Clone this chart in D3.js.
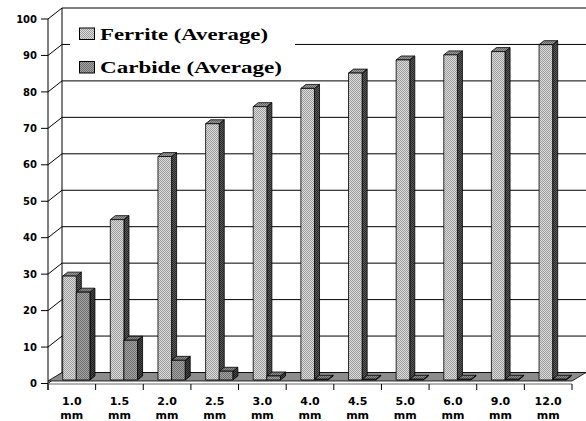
<!DOCTYPE html>
<html>
<head>
<meta charset="utf-8">
<script src="https://cdn.jsdelivr.net/npm/d3@7/dist/d3.min.js"></script>
<style>
  html, body { margin: 0; padding: 0; background: #fff; }
  svg { display: block; }
</style>
</head>
<body>
<svg id="chart" width="586" height="421"></svg>
<script>
// Average phase fractions by distance
const categories = ["1.0", "1.5", "2.0", "2.5", "3.0", "4.0", "4.5", "5.0", "6.0", "9.0", "12.0"];
const ferrite = [28.5, 44, 61.3, 70.3, 75, 80, 84.2, 87.8, 89.2, 90.1, 92];
const carbide = [24.1, 10.9, 5.4, 2.4, 1.1, 0.2, 0.2, 0.2, 0.2, 0.2, 0.2];
const yTicks = [0, 10, 20, 30, 40, 50, 60, 70, 80, 90, 100];
const seriesNames = ["Ferrite (Average)", "Carbide (Average)"];

const svg = d3.select("#chart");

const x = d3.scaleBand().domain(categories).range([48, 572]).paddingInner(0).paddingOuter(0);
const y = d3.scaleLinear().domain([0, 100]).range([383.5, 19]);

// oblique depth offset of the back plane
const DX = 14, DY = -11;
const P = (px, v, d) => [px + d * DX, y(v) + d * DY];

// fill textures
const defs = svg.append("defs");
function checker(id, a, b) {
  const p = defs.append("pattern").attr("id", id).attr("width", 2).attr("height", 2)
    .attr("patternUnits", "userSpaceOnUse");
  p.append("rect").attr("width", 2).attr("height", 2).attr("fill", a);
  p.append("rect").attr("width", 1).attr("height", 1).attr("fill", b);
  p.append("rect").attr("x", 1).attr("y", 1).attr("width", 1).attr("height", 1).attr("fill", b);
}
checker("fFront", "#dcdcdc", "#9c9c9c");
checker("fTop", "#9a9a9a", "#6a6a6a");
checker("fSide", "#5a5a5a", "#2a2a2a");
checker("cFront", "#a4a4a4", "#6e6e6e");
checker("cTop", "#8a8a8a", "#5a5a5a");
checker("cSide", "#4a4a4a", "#1e1e1e");

const line = (pts) => "M" + pts.map(p => p.join(",")).join("L");
const poly = (pts) => line(pts) + "Z";

const x0 = x.range()[0], x1 = x.range()[1];

// back wall and side wall gridlines
const grid = svg.append("g");
yTicks.forEach(v => {
  const a = P(x0, v, 0), b = P(x0, v, 1), c = P(x1, v, 1);
  grid.append("path").attr("d", line([a, b, c])).attr("fill", "none")
    .attr("stroke", "#000").attr("stroke-width", 1);
});
// back wall left edge
grid.append("path").attr("d", line([P(x0, 100, 1), P(x0, 0, 1)]))
  .attr("stroke", "#000").attr("fill", "none");

// floor
svg.append("path")
  .attr("d", poly([[x0, 381], [x1, 381], P(x1, 0, 1), P(x0, 0, 1)]))
  .attr("fill", "#8c8c8c").attr("stroke", "#000").attr("stroke-width", 0.8);

// value axis
const yAxis = svg.append("g");
yAxis.append("path").attr("d", line([[x0, y(100)], [x0, 390]]))
  .attr("stroke", "#000").attr("fill", "none");
yTicks.forEach(v => {
  yAxis.append("path").attr("d", line([[41, y(v)], [x0, y(v)]])).attr("stroke", "#000");
  yAxis.append("text").attr("x", 37).attr("y", y(v) + 3.6)
    .attr("text-anchor", "end")
    .attr("font-family", "DejaVu Sans").attr("font-weight", "bold").attr("font-size", 10)
    .text(v);
});

// category axis
const xAxis = svg.append("g");
xAxis.append("path").attr("d", line([[x0, 384], [x1, 384]]))
  .attr("stroke", "#666").attr("fill", "none");
categories.concat(["end"]).forEach((c, i) => {
  const px = x0 + i * x.bandwidth();
  xAxis.append("path").attr("d", line([[px, 384], [px, 390]])).attr("stroke", "#000");
});
categories.forEach(c => {
  const cx = x(c) + x.bandwidth() / 2;
  const t = xAxis.append("text").attr("text-anchor", "middle")
    .attr("font-family", "DejaVu Sans").attr("font-weight", "bold").attr("font-size", 11);
  t.append("tspan").attr("x", cx).attr("y", 405).text(c);
  t.append("tspan").attr("x", cx).attr("y", 419).text("mm");
});

// legend (white box over the back wall)
const legend = svg.append("g");
legend.append("rect").attr("x", 70).attr("y", 13).attr("width", 225).attr("height", 65).attr("fill", "#fff");
const legendItems = [
  { name: seriesNames[0], fill: "url(#fFront)", y: 39.5, len: 168 },
  { name: seriesNames[1], fill: "url(#cFront)", y: 73, len: 182 }
];
legendItems.forEach(it => {
  legend.append("rect").attr("x", 79.5).attr("y", it.y - 11.5).attr("width", 15).attr("height", 11.5)
    .attr("fill", it.fill).attr("stroke", "#000").attr("stroke-width", 1);
  legend.append("text").attr("x", 100).attr("y", it.y)
    .attr("font-family", "Liberation Serif").attr("font-weight", "bold").attr("font-size", 17)
    .attr("textLength", it.len).attr("lengthAdjust", "spacingAndGlyphs")
    .text(it.name);
});

// 3D columns
const w = x.bandwidth() / 3.5;   // gap width 150%
const d0 = 0.32, d1 = 0.68;
const bars = svg.append("g");
function column(left, v, front, top, side) {
  const g = bars.append("g").attr("stroke", "#000").attr("stroke-width", 0.8).attr("stroke-linejoin", "round");
  g.append("path").attr("d", poly([P(left + w, v, d0), P(left + w, 0, d0), P(left + w, 0, d1), P(left + w, v, d1)]))
    .attr("fill", side);
  g.append("path").attr("d", poly([P(left, v, d0), P(left + w, v, d0), P(left + w, v, d1), P(left, v, d1)]))
    .attr("fill", top);
  g.append("path").attr("d", poly([P(left, v, d0), P(left + w, v, d0), P(left + w, 0, d0), P(left, 0, d0)]))
    .attr("fill", front);
}
categories.forEach((c, i) => {
  const s = x(c);
  column(s + 0.75 * w, ferrite[i], "url(#fFront)", "url(#fTop)", "url(#fSide)");
  column(s + 1.75 * w, carbide[i], "url(#cFront)", "url(#cTop)", "url(#cSide)");
});
</script>
</body>
</html>
